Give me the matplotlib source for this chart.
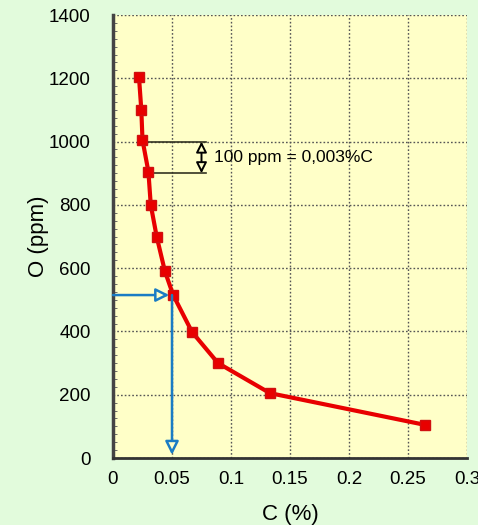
import numpy as np
import matplotlib
matplotlib.use('Agg')
import matplotlib.pyplot as plt
from matplotlib.ticker import FuncFormatter, MultipleLocator

# carbon (%) vs oxygen (ppm) equilibrium curve
c_pct = [0.022, 0.024, 0.025, 0.030, 0.032, 0.037, 0.044, 0.051, 0.067, 0.089, 0.133, 0.264]
o_ppm = [1205, 1100, 1005, 905, 800, 700, 590, 515, 398, 300, 205, 105]

x_ticks = [0, 0.05, 0.1, 0.15, 0.2, 0.25, 0.3]
y_ticks = [0, 200, 400, 600, 800, 1000, 1200, 1400]

# reading example: 515 ppm O -> 0.05 % C
read_o = 515
read_c = 0.05

plt.rcParams['font.family'] = ['Liberation Sans', 'DejaVu Sans']

fig = plt.figure(figsize=(4.78, 5.25), dpi=100, facecolor='#e2fbdc')
ax = fig.add_axes([0.2364, 0.1276, 0.7406, 0.8438])
ax.set_facecolor('#ffffc8')

ax.set_xlim(0, 0.3)
ax.set_ylim(0, 1400)
ax.set_xticks(x_ticks)
ax.set_yticks(y_ticks)
ax.xaxis.set_major_formatter(FuncFormatter(lambda v, p: '%g' % v))
ax.yaxis.set_minor_locator(MultipleLocator(25))
ax.tick_params(axis='both', which='major', length=0, labelsize=13.5)
ax.tick_params(axis='y', which='minor', length=3, direction='in', color='#555555')
ax.tick_params(axis='y', pad=16)
ax.tick_params(axis='x', pad=9)

ax.grid(True, which='major', linestyle=(0, (1.2, 1.5)), color='#555555', linewidth=1.0)
for s in ['top', 'right']:
    ax.spines[s].set_visible(False)
ax.spines['left'].set_linewidth(2.5)
ax.spines['left'].set_color('#444444')
ax.spines['bottom'].set_linewidth(2.0)
ax.spines['bottom'].set_color('#333333')

ax.plot(c_pct, o_ppm, color='#e80000', linewidth=3, marker='s', markersize=7,
        markerfacecolor='#e80000', markeredgecolor='#d01010', zorder=5, clip_on=False)

# 100 ppm scale mark
ax.plot([0.025, 0.079], [1000, 1000], color='#333322', linewidth=1.2, zorder=4)
ax.plot([0.030, 0.079], [900, 900], color='#333322', linewidth=1.2, zorder=4)
ax.annotate('', xy=(0.075, 1000), xytext=(0.075, 900),
            arrowprops=dict(arrowstyle='<|-|>', mutation_scale=16, fc='#ffffc8',
                            ec='black', lw=1.4, shrinkA=0, shrinkB=0))
ax.text(0.0855, 950, '100 ppm = 0,003%C', fontsize=12.5, va='center', ha='left')

# blue reading arrows
ax.annotate('', xy=(read_c, read_o), xytext=(0, read_o),
            arrowprops=dict(arrowstyle='-|>', mutation_scale=20, fc='#ffffc8',
                            ec='#1a7cc4', lw=1.8, shrinkA=0, shrinkB=2), zorder=6)
ax.annotate('', xy=(read_c, 10), xytext=(read_c, read_o),
            arrowprops=dict(arrowstyle='-|>', mutation_scale=20, fc='#ffffc8',
                            ec='#1a7cc4', lw=1.8, shrinkA=0, shrinkB=0), zorder=6)

ax.set_xlabel('C (%)', fontsize=16, labelpad=12)
ax.set_ylabel('O (ppm)', fontsize=16, labelpad=0)

fig.savefig('out.png', dpi=100, facecolor=fig.get_facecolor())
